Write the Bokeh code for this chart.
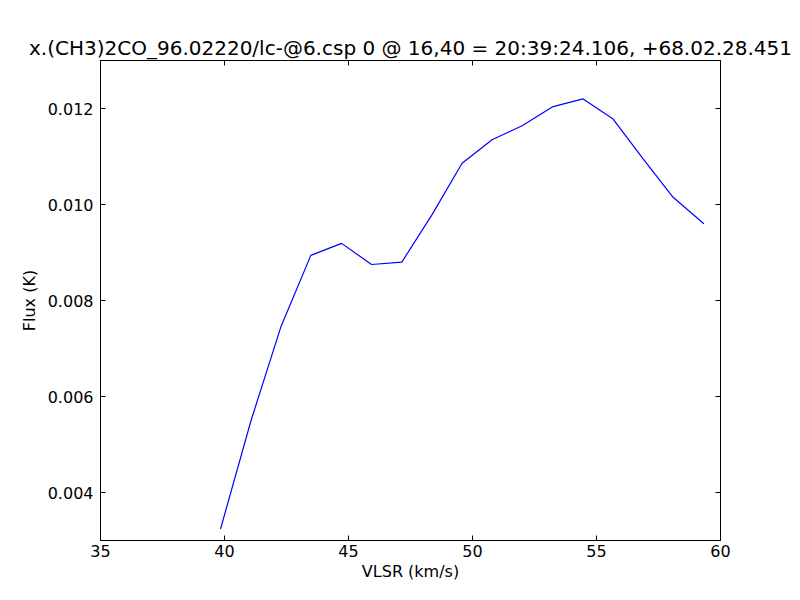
from bokeh.plotting import figure
from bokeh.models import LinearAxis, FixedTicker, PrintfTickFormatter, Range1d
from bokeh.embed import file_html
from bokeh.resources import INLINE

vlsr = [39.84, 41.07, 42.28, 43.48, 44.72, 45.93, 47.15, 48.37, 49.58,
        50.79, 52.00, 53.25, 54.46, 55.67, 56.88, 58.09, 59.33]
flux = [0.00324, 0.00550, 0.00746, 0.00894, 0.00919, 0.00875, 0.00880,
        0.00979, 0.01086, 0.01135, 0.01164, 0.01204, 0.01220, 0.01178,
        0.01095, 0.01015, 0.00960]
x_ticks = [35, 40, 45, 50, 55, 60]
y_ticks = [0.004, 0.006, 0.008, 0.010, 0.012]
title = "x.(CH3)2CO_96.02220/lc-@6.csp 0 @ 16,40 = 20:39:24.106, +68.02.28.451"

FONT = "DejaVu Sans"

p = figure(width=792, height=592, output_backend="svg", toolbar_location=None,
           x_range=Range1d(35, 60), y_range=Range1d(0.003, 0.013),
           min_border_left=100, min_border_right=72, min_border_top=60,
           min_border_bottom=52, x_axis_location=None, y_axis_location=None)
p.title.text = title
p.title.align = "center"
p.title.text_font = FONT
p.title.text_font_size = "20px"
p.title.text_font_style = "normal"
p.title.text_color = "black"
p.title.standoff = 2
p.grid.visible = False
p.outline_line_color = "black"
p.outline_line_width = 1
p.background_fill_color = "white"
p.border_fill_color = "white"

def mk_axis(ticks, fmt, labels, label_text):
    ax = LinearAxis(ticker=FixedTicker(ticks=ticks))
    if fmt:
        ax.formatter = PrintfTickFormatter(format=fmt)
    ax.major_tick_in = 5
    ax.major_tick_out = 0
    ax.minor_tick_line_color = None
    ax.axis_line_color = "black"
    ax.major_tick_line_color = "black"
    ax.major_label_text_font = FONT
    ax.major_label_text_font_size = "16px"
    ax.major_label_text_color = "black"
    ax.major_label_standoff = 6
    ax.axis_label_text_font = FONT
    ax.axis_label_text_font_size = "16px"
    ax.axis_label_text_font_style = "normal"
    ax.axis_label_text_color = "black"
    if not labels:
        ax.major_label_text_font_size = "0px"
        ax.major_label_text_color = None
        ax.major_label_standoff = 0
    if label_text:
        ax.axis_label = label_text
    return ax

bx = mk_axis(x_ticks, None, True, "VLSR (km/s)")
bx.axis_label_standoff = 2
bx.major_label_standoff = 4
ly = mk_axis(y_ticks, "%.3f", True, "Flux (K)")
ly.axis_label_standoff = 6
ly.major_label_standoff = 7
tx = mk_axis(x_ticks, None, False, None)
ry = mk_axis(y_ticks, "%.3f", False, None)
p.add_layout(bx, "below")
p.add_layout(ly, "left")
p.add_layout(tx, "above")
p.add_layout(ry, "right")

p.line(vlsr, flux, line_color="#0000ff", line_width=1.2)

open("out.html", "w").write(file_html(p, INLINE))
